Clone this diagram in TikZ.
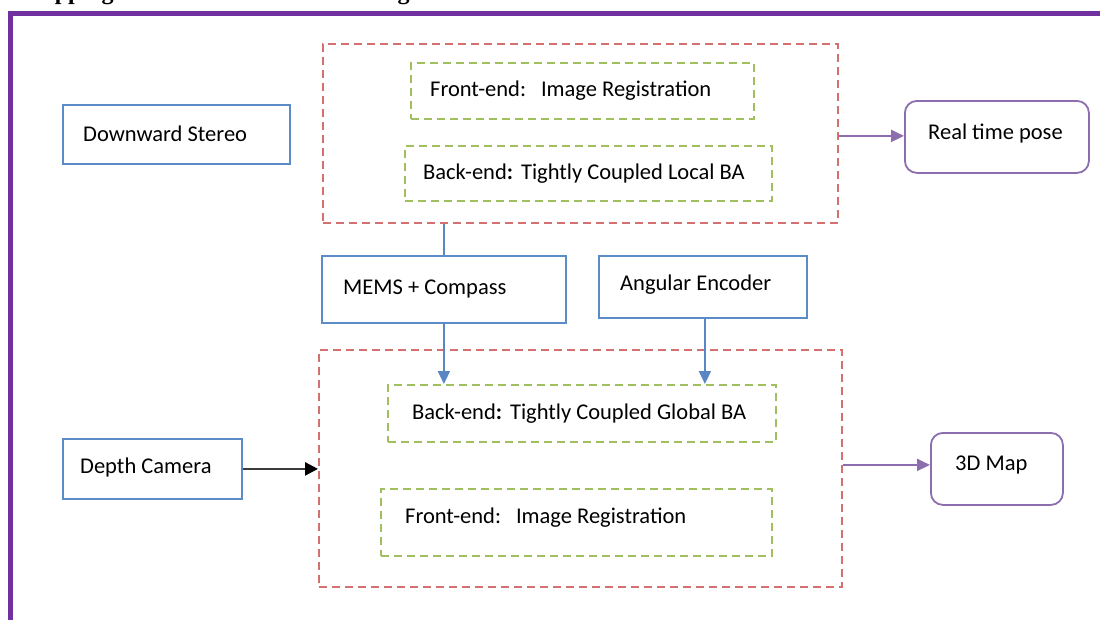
\documentclass[tikz,border=0pt]{standalone}
\usepackage{fontspec}
\setmainfont{Carlito}
\newfontfamily\titlefont{Liberation Serif}
\usetikzlibrary{arrows.meta}

\definecolor{framepurple}{RGB}{112,48,160}
\definecolor{boxblue}{RGB}{92,140,200}
\definecolor{groupred}{RGB}{212,112,112}
\definecolor{stagegreen}{RGB}{160,192,96}
\definecolor{outpurple}{RGB}{140,110,175}
\definecolor{linkblue}{RGB}{90,135,195}
\definecolor{darkline}{RGB}{60,60,60}

\tikzset{
  sensor/.style={draw=boxblue, line width=1.8pt, anchor=north west, inner sep=0pt},
  group/.style={draw=groupred, dash pattern=on 8pt off 5pt, line width=1.8pt, anchor=north west, inner sep=0pt},
  stage/.style={draw=stagegreen, dash pattern=on 8pt off 5pt, line width=1.6pt, anchor=north west, inner sep=0pt},
  result/.style={draw=outpurple, rounded corners=12pt, line width=1.8pt, anchor=north west, inner sep=0pt},
  lbl/.style={anchor=west, inner sep=0pt, font=\fontsize{22.5}{27}\selectfont},
  tip/.style={-{Triangle[length=13pt,width=12pt]}},
  bluelink/.style={draw=linkblue, line width=2pt},
  purplelink/.style={draw=outpurple, line width=2pt, tip},
}

\begin{document}
\begin{tikzpicture}[x=1pt,y=-1pt]
\useasboundingbox (0,0) rectangle (1100,619);
\clip (0,0) rectangle (1100,619);

% heading, mostly above the page edge
\node[anchor=base west, inner sep=0pt, font=\titlefont\bfseries\fontsize{24}{28}\selectfont]
  (title) at (20,-1) {Mapping and Localization Block Diagram};

% outer frame
\draw[framepurple, line width=5pt] (10.5,13) rectangle (1130,650);

% tracking group (top)
\node[group, minimum width=515pt, minimum height=179pt] (top) at (322,43) {};
\node[stage, minimum width=343pt, minimum height=56pt] (fe1) at (410,62) {};
\node[lbl] (fe1t) at (430,91) {Front-end:\hspace{15pt}Image Registration};
\node[stage, minimum width=367pt, minimum height=55pt] (be1) at (404,145) {};
\node[lbl] (be1t) at (423,174) {Back-end\textbf{:}\hspace{8pt}Tightly Coupled Local BA};

% mapping group (bottom)
\node[group, minimum width=523pt, minimum height=237pt] (bot) at (318,349) {};
\node[stage, minimum width=388pt, minimum height=57pt] (be2) at (387,384) {};
\node[lbl] (be2t) at (412,414) {Back-end\textbf{:}\hspace{8pt}Tightly Coupled Global BA};
\node[stage, minimum width=391pt, minimum height=67pt] (fe2) at (380,488) {};
\node[lbl] (fe2t) at (405,518) {Front-end:\hspace{15pt}Image Registration};

% sensors
\node[sensor, minimum width=227pt, minimum height=59pt] (ds) at (62,104) {};
\node[lbl] (dst) at (83,134) {Downward Stereo};
\node[sensor, minimum width=244pt, minimum height=67pt] (mems) at (321,255) {};
\node[lbl] (memst) at (343,289) {MEMS + Compass};
\node[sensor, minimum width=208pt, minimum height=62pt] (enc) at (598,255) {};
\node[lbl] (enct) at (620,285) {Angular Encoder};
\node[sensor, minimum width=179pt, minimum height=60pt] (dc) at (62,438) {};
\node[lbl] (dct) at (80,467) {Depth Camera};

% outputs
\node[result, minimum width=184pt, minimum height=72pt] (rtp) at (904,100) {};
\node[lbl] (rtpt) at (928,133) {Real time pose};
\node[result, minimum width=132pt, minimum height=72pt] (map) at (930,432) {};
\node[lbl] (mapt) at (955,465) {3D Map};

% connectors
\draw[bluelink] (mems.north) -- (mems.north |- top.south);
\draw[bluelink, tip] (mems.south) -- (mems.south |- be2.north);
\draw[bluelink, tip] ([xshift=2pt]enc.south) -- ([xshift=2pt]enc.south |- be2.north);
\draw[darkline, line width=2.5pt, -{Triangle[length=13pt,width=13pt,color=black]}] (dc.east) -- (dc.east -| bot.west);
\path (rtp.west) ++(0,-1) coordinate (rtpin);
\draw[purplelink] (rtpin -| top.east) -- (rtpin);
\path (map.west) ++(0,-4) coordinate (mapin);
\draw[purplelink] (mapin -| bot.east) -- (mapin);
\end{tikzpicture}
\end{document}
